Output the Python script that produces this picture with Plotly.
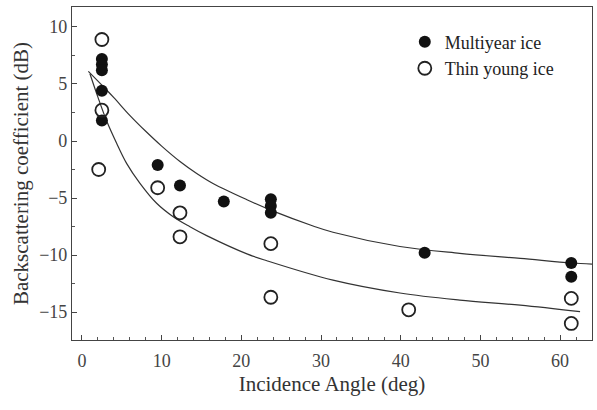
import plotly.graph_objects as go

# Multiyear ice (filled)
my_angle = [2.5, 2.5, 2.5, 2.5, 2.5, 9.5, 12.3, 17.8, 23.7, 23.7, 23.7, 43.0, 61.4, 61.4]
my_sigma = [7.2, 6.7, 6.2, 4.4, 1.8, -2.1, -3.9, -5.3, -5.1, -5.7, -6.3, -9.8, -10.7, -11.9]

# Thin young ice (open)
ty_angle = [2.5, 2.5, 2.1, 9.5, 12.3, 12.3, 23.7, 23.7, 41.0, 61.4, 61.4]
ty_sigma = [8.9, 2.7, -2.5, -4.1, -6.3, -8.4, -9.0, -13.7, -14.8, -13.8, -16.0]

# Fitted curves
fit_my_angle = [0.8, 2.7, 4.0, 6.0, 8.0, 10.0, 12.3, 14.4, 16.5, 20.7, 24.0, 29.0, 31.5, 39.9, 47.4, 55.0, 61.4, 64.0]
fit_my_sigma = [6.1, 4.75, 3.8, 2.25, 0.85, -0.45, -1.8, -2.85, -3.75, -5.15, -6.15, -7.45, -8.0, -9.25, -9.85, -10.3, -10.7, -10.8]
fit_ty_angle = [1.0, 2.0, 3.1, 4.35, 5.6, 7.28, 9.37, 11.45, 13.55, 15.65, 20.7, 23.2, 31.5, 39.9, 47.4, 55.0, 62.5]
fit_ty_sigma = [5.9, 3.85, 1.75, -0.2, -1.96, -3.71, -5.46, -6.64, -7.52, -8.3, -9.9, -10.5, -12.2, -13.33, -13.95, -14.4, -14.97]

x_ticks = [0, 10, 20, 30, 40, 50, 60]
y_ticks = [-15, -10, -5, 0, 5, 10]

FONT = "Liberation Serif"
fig = go.Figure()
fig.add_trace(go.Scatter(x=fit_my_angle, y=fit_my_sigma, mode="lines", line=dict(color="#333", width=1.2, shape="spline"),
                         showlegend=False, hoverinfo="skip"))
fig.add_trace(go.Scatter(x=fit_ty_angle, y=fit_ty_sigma, mode="lines", line=dict(color="#333", width=1.2, shape="spline"),
                         showlegend=False, hoverinfo="skip"))
fig.add_trace(go.Scatter(x=my_angle, y=my_sigma, mode="markers", name="Multiyear ice",
                         marker=dict(symbol="circle", size=12, color="#111", line=dict(color="#111", width=0))))
fig.add_trace(go.Scatter(x=ty_angle, y=ty_sigma, mode="markers", name="Thin young ice",
                         marker=dict(symbol="circle-open", size=13, color="#222", line=dict(color="#222", width=1.8))))

fig.update_layout(
    width=597, height=410,
    margin=dict(l=72, r=5, t=7, b=70),
    paper_bgcolor="white", plot_bgcolor="white",
    font=dict(family=FONT, color="#333", size=18),
    legend=dict(x=0.64, y=0.95, xanchor="left", yanchor="top", bgcolor="rgba(0,0,0,0)",
                font=dict(family=FONT, size=18, color="#222"), itemwidth=30, tracegroupgap=0),
    xaxis=dict(range=[-1.25, 64.0], tickvals=x_ticks, ticks="inside", ticklen=5, tickcolor="#444",
               showline=True, linecolor="#444", linewidth=1.2, mirror=True, showgrid=False, zeroline=False,
               minor=dict(dtick=2, ticks="inside", ticklen=3, tickcolor="#555"),
               title=dict(text="Incidence Angle (deg)", font=dict(family=FONT, size=21, color="#333"), standoff=6),
               tickfont=dict(family=FONT, size=18, color="#444"), ticklabelstandoff=4),
    yaxis=dict(range=[-17.45, 11.75], tickvals=y_ticks, ticks="inside", ticklen=5, tickcolor="#444",
               showline=True, linecolor="#444", linewidth=1.2, mirror=True, showgrid=False, zeroline=False,
               minor=dict(dtick=2.5, ticks="inside", ticklen=3, tickcolor="#555"),
               title=dict(text="Backscattering coefficient (dB)", font=dict(family=FONT, size=21, color="#333"), standoff=4),
               tickfont=dict(family=FONT, size=18, color="#444")),
)
fig.write_html("out.html", config={"displayModeBar": False},
               post_script="document.body.style.margin='0';document.body.style.padding='0';")
